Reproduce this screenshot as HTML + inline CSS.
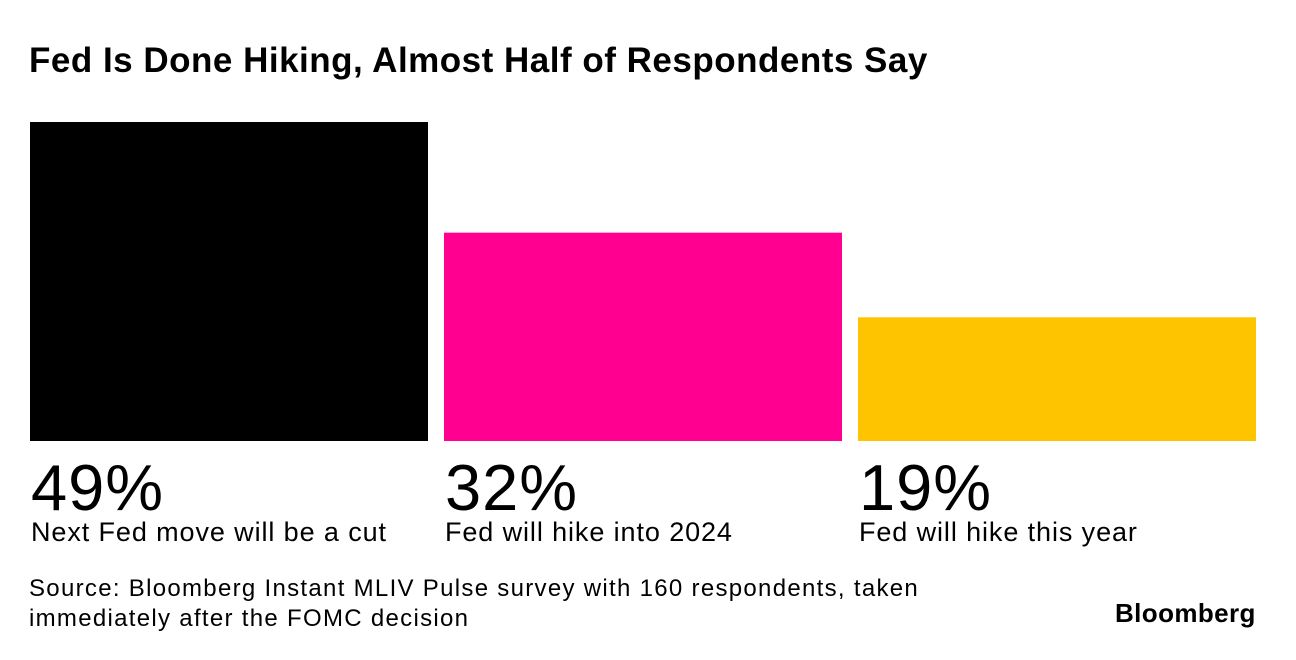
<!DOCTYPE html>
<html><head><meta charset="utf-8"><style>
body{margin:0;width:1296px;height:660px;background:#fff;font-family:"Liberation Sans",sans-serif;position:relative;overflow:hidden;color:#000}
.t{position:absolute;white-space:nowrap}
</style></head><body>
<div class="t" style="left:29px;top:41px;font-size:35px;font-weight:bold;letter-spacing:0.5px">Fed Is Done Hiking, Almost Half of Respondents Say</div>
<svg id="chart" width="1296" height="560" style="position:absolute;left:0;top:0"></svg>
<div class="t" style="left:29px;top:574px;font-size:24px;line-height:30px;letter-spacing:1.3px">Source: Bloomberg Instant MLIV Pulse survey with 160 respondents, taken<br>immediately after the FOMC decision</div>
<div class="t" style="left:1115px;top:598px;font-size:26px;font-weight:bold;letter-spacing:0.4px">Bloomberg</div>
<script>
const categories=["Next Fed move will be a cut","Fed will hike into 2024","Fed will hike this year"];
const values=[49,32,19];
const colors=["#000000","#ff0090","#ffc400"];
const svg=document.getElementById('chart');
const NS='http://www.w3.org/2000/svg';
const base=441,top0=122,maxV=49;
function y(v){return base-(base-top0)*v/maxV;}
function x(i){return 30+i*414;}
const bw=398;
values.forEach((v,i)=>{
 const r=document.createElementNS(NS,'rect');
 r.setAttribute('x',x(i));r.setAttribute('y',y(v));r.setAttribute('width',bw);r.setAttribute('height',base-y(v));r.setAttribute('fill',colors[i]);
 
 
 svg.appendChild(r);
 const t=document.createElementNS(NS,'text');
 t.setAttribute('x',x(i)+1);t.setAttribute('y',510);t.setAttribute('font-size','65');
 t.setAttribute('font-family','Liberation Sans, sans-serif');t.setAttribute('letter-spacing','1');
 t.textContent=v+'%';
 
 
 svg.appendChild(t);
 const c=document.createElementNS(NS,'text');
 c.setAttribute('x',x(i)+1);c.setAttribute('y',541);c.setAttribute('font-size','27');
 c.setAttribute('font-family','Liberation Sans, sans-serif');c.setAttribute('letter-spacing','0.9');
 c.textContent=categories[i];
 
 
 svg.appendChild(c);
});
</script>
</body></html>
